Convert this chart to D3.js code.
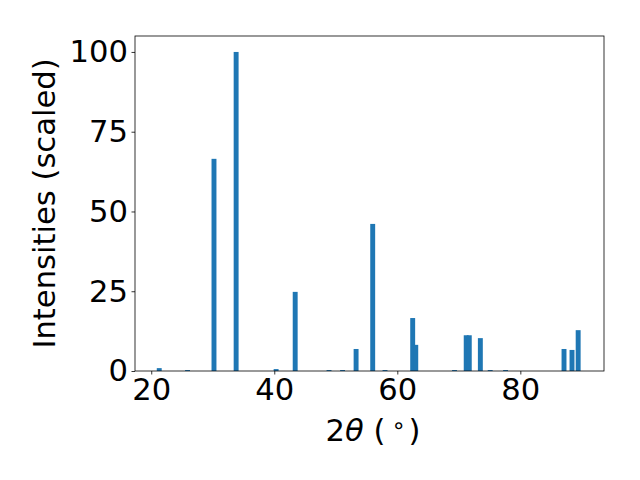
<!DOCTYPE html>
<html>
<head>
<meta charset="utf-8">
<script src="https://cdn.jsdelivr.net/npm/d3@7"></script>
<style>
  body { margin: 0; background: #fff; }
  text { font-family: "DejaVu Sans", sans-serif; fill: #000; }
</style>
</head>
<body>
<svg id="chart" width="640" height="480"></svg>
<script>
// peak positions (2 theta, degrees) and scaled intensities
var angles = [21.3, 25.9, 30.2, 33.8, 40.3, 43.4, 48.9, 51.1, 53.3, 56.0, 58.0, 62.5, 63.0,
              69.3, 71.2, 71.7, 73.5, 75.1, 77.6, 87.1, 88.4, 89.4];
var intensities = [0.9, 0.3, 66.5, 100, 0.6, 24.8, 0.3, 0.3, 6.9, 46.1, 0.3, 16.6, 8.2,
                   0.3, 11.2, 11.2, 10.3, 0.3, 0.3, 6.9, 6.6, 12.8];
var xTicks = [20, 40, 60, 80];
var yTicks = [0, 25, 50, 75, 100];

var margin = {top: 36, right: 36, bottom: 109, left: 135},
    width = 640 - margin.left - margin.right,
    height = 480 - margin.top - margin.bottom;

var barWidth = 0.8;
var fontSize = "30.6px";

var svg = d3.select("#chart");
var g = svg.append("g")
    .attr("transform", "translate(" + margin.left + "," + margin.top + ")");

var x = d3.scaleLinear().domain([17.36, 93.6]).range([0, width]);
var y = d3.scaleLinear().domain([0, 105]).range([height, 0]);

var data = angles.map(function(a, i) { return {a: a, v: intensities[i]}; });

g.selectAll("rect.bar")
    .data(data)
  .enter().append("rect")
    .attr("class", "bar")
    .attr("x", function(d) { return x(d.a - barWidth / 2); })
    .attr("width", function(d) { return x(d.a + barWidth / 2) - x(d.a - barWidth / 2); })
    .attr("y", function(d) { return y(d.v); })
    .attr("height", function(d) { return y(0) - y(d.v); })
    .attr("fill", "#1f77b4");

// axes
var xAxis = g.append("g")
    .attr("transform", "translate(0," + height + ")")
    .call(d3.axisBottom(x).tickValues(xTicks).tickSize(3.5).tickPadding(3.5).tickSizeOuter(0));
var yAxis = g.append("g")
    .call(d3.axisLeft(y).tickValues(yTicks).tickSize(3.5).tickPadding(3.5).tickSizeOuter(0));

[xAxis, yAxis].forEach(function(ax) {
  ax.select(".domain").remove();
  ax.selectAll("line").attr("stroke", "#000").attr("stroke-width", 0.8);
  ax.selectAll("text").style("font-size", fontSize).attr("fill", "#000");
});

// frame
g.append("rect")
    .attr("width", width)
    .attr("height", height)
    .attr("fill", "none")
    .attr("stroke", "#000")
    .attr("stroke-width", 0.8);

// labels
var cx = margin.left + width / 2;
var xl = svg.append("text")
    .attr("y", 441)
    .style("font-size", fontSize);
xl.append("tspan").attr("x", cx - 44).text("2");
xl.append("tspan").style("font-style", "italic").text("θ");
xl.append("tspan").text(" (");
xl.append("tspan").attr("x", cx + 22).attr("dy", -8).style("font-size", "23px").text("∘");
xl.append("tspan").attr("x", cx + 39).attr("dy", 8).text(")");

svg.append("text")
    .attr("transform", "translate(55," + (margin.top + height / 2) + ") rotate(-90)")
    .attr("text-anchor", "middle")
    .style("font-size", fontSize)
    .text("Intensities (scaled)");
</script>
</body>
</html>
